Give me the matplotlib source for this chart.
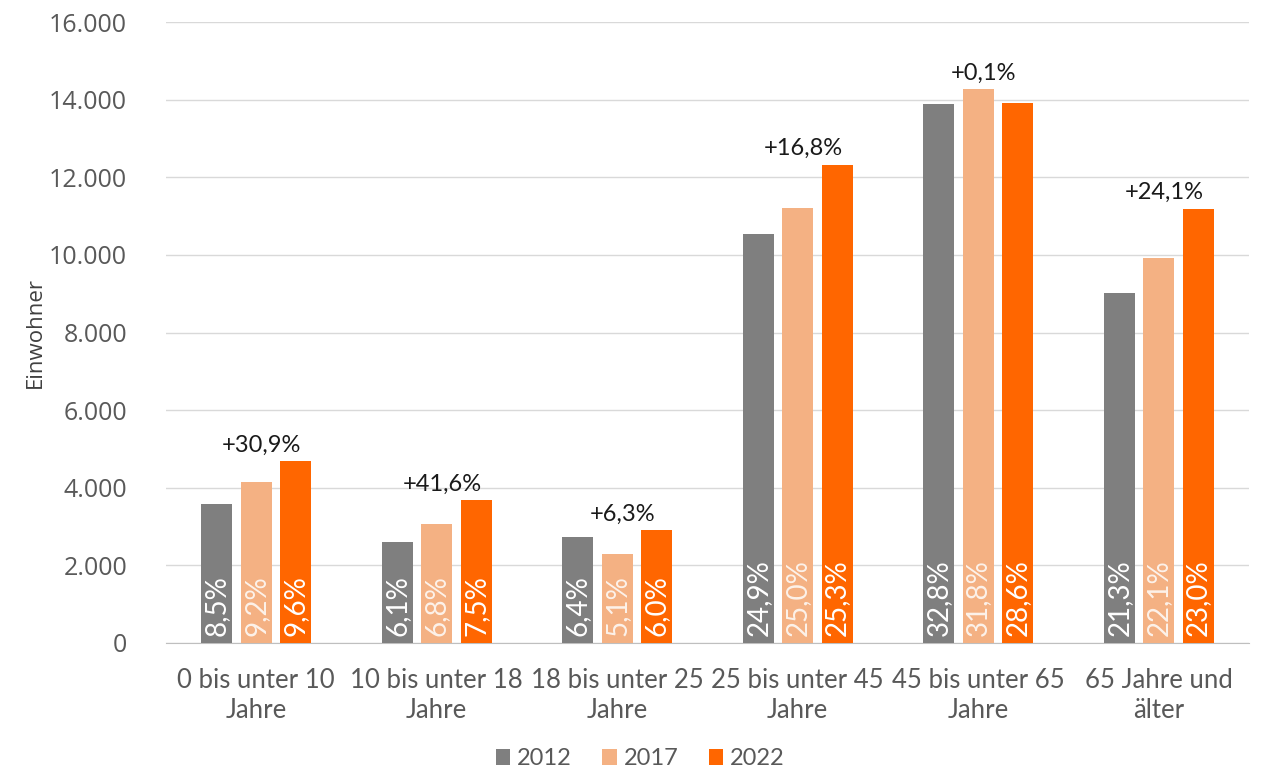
import matplotlib.pyplot as plt
from matplotlib.ticker import FuncFormatter
import numpy as np

# Altersgruppen und Einwohnerzahlen
categories = ["0 bis unter 10\nJahre", "10 bis unter 18\nJahre", "18 bis unter 25\nJahre",
              "25 bis unter 45\nJahre", "45 bis unter 65\nJahre", "65 Jahre und\nälter"]
years = ["2012", "2017", "2022"]
v2012 = [3580, 2590, 2730, 10540, 13890, 9020]
v2017 = [4150, 3060, 2290, 11220, 14270, 9910]
v2022 = [4680, 3680, 2910, 12320, 13910, 11190]

# Anteile je Jahr (Beschriftung in den Balken)
share2012 = ["8,5%", "6,1%", "6,4%", "24,9%", "32,8%", "21,3%"]
share2017 = ["9,2%", "6,8%", "5,1%", "25,0%", "31,8%", "22,1%"]
share2022 = ["9,6%", "7,5%", "6,0%", "25,3%", "28,6%", "23,0%"]

# Veränderung 2012 -> 2022
changes = ["+30,9%", "+41,6%", "+6,3%", "+16,8%", "+0,1%", "+24,1%"]

colors = ["#7f7f7f", "#f4b183", "#ff6600"]
label_colors = ["white", "#fdf2ea", "white"]

fig = plt.figure(figsize=(12.61, 7.73), dpi=100)
ax = fig.add_axes([0.1316, 0.1682, 0.8589, 0.8033])

x = np.arange(len(categories))
width = 0.172
pitch = 0.218

series = [v2012, v2017, v2022]
shares = [share2012, share2017, share2022]
for i in range(3):
    pos = x + (i - 1) * pitch
    ax.bar(pos, series[i], width, color=colors[i], label=years[i], zorder=3)
    for p, s in zip(pos, shares[i]):
        ax.text(p, 190, s, rotation=90, ha="center", va="bottom",
                color=label_colors[i], fontsize=20, family="Lato", zorder=4)

# Veränderung über der Gruppe
for xi, c in zip(x, changes):
    top = max(v2012[xi], v2017[xi], v2022[xi])
    ax.annotate(c, (xi + 0.03, top), xytext=(0, 4), textcoords="offset points",
                ha="center", va="bottom", fontsize=17, color="#1a1a1a", family="Lato")

ax.set_xlim(-0.5, len(categories) - 0.5)
ax.set_ylim(0, 16000)
ax.set_yticks(np.arange(0, 16001, 2000))
ax.yaxis.set_major_formatter(FuncFormatter(lambda v, p: f"{int(v):,}".replace(",", ".")))
ax.set_xticks(x)
ax.set_xticklabels(categories, fontsize=18.5, color="#595959",
                   family="Lato", linespacing=1.25)
ax.tick_params(axis="y", labelsize=18, labelcolor="#595959", length=0, pad=28)
ax.tick_params(axis="x", length=0, pad=18)
for t in ax.get_yticklabels():
    t.set_family("Open Sans")

ax.grid(axis="y", color="#d9d9d9", linewidth=1, zorder=0)
for side in ["top", "right", "left"]:
    ax.spines[side].set_visible(False)
ax.spines["bottom"].set_color("#bfbfbf")

ax.set_ylabel("Einwohner", fontsize=16, color="#404040", family="Open Sans", labelpad=2)

ax.legend(loc="upper center", bbox_to_anchor=(0.438, -0.135), ncol=3, frameon=False,
          prop={"family": "Lato", "size": 17},
          handlelength=0.6, handleheight=0.7, handletextpad=0.3, columnspacing=1.3,
          labelcolor="#595959")

fig.savefig("out.png", dpi=100)
